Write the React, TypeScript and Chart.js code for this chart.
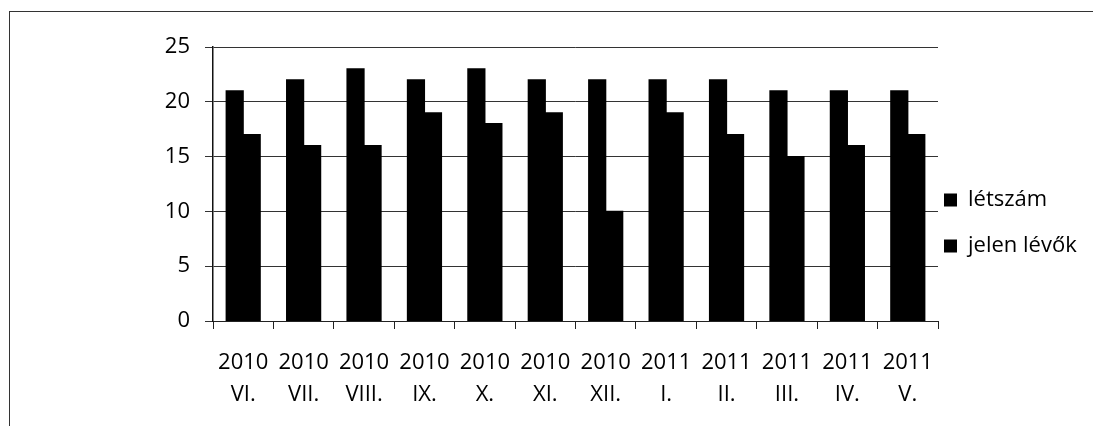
import React, { useEffect, useRef } from "react";
import { Chart, registerables } from "chart.js";

Chart.register(...registerables);

const categories: string[][] = [
  ["2010", "VI."],
  ["2010", "VII."],
  ["2010", "VIII."],
  ["2010", "IX."],
  ["2010", "X."],
  ["2010", "XI."],
  ["2010", "XII."],
  ["2011", "I."],
  ["2011", "II."],
  ["2011", "III."],
  ["2011", "IV."],
  ["2011", "V."],
];
const letszam: number[] = [21, 22, 23, 22, 23, 22, 22, 22, 22, 21, 21, 21];
const jelenLevok: number[] = [17, 16, 16, 19, 18, 19, 10, 19, 17, 15, 16, 17];
const seriesNames: string[] = ["létszám", "jelen lévők"];

const FONT = "'Open Sans', 'DejaVu Sans', sans-serif";

const legendPlacer = {
  id: "legendPlacer",
  afterLayout(chart: any) {
    const l = chart.legend;
    if (!l) return;
    const pad = l.options.labels.padding;
    const left = chart.chartArea.right + 6 - pad;
    const top = 189 - pad;
    const w = l.width;
    const h = l.height;
    l.left = left;
    l.right = left + w;
    l.top = top;
    l.bottom = top + Math.max(h, 200);
    l.height = l.bottom - l.top;
  },
};

export default function App() {
  const ref = useRef<HTMLCanvasElement | null>(null);

  useEffect(() => {
    if (!ref.current) return;
    const chart = new Chart(ref.current, {
      type: "bar",
      data: {
        labels: categories,
        datasets: [
          {
            label: seriesNames[0],
            data: letszam,
            backgroundColor: "#000",
            borderWidth: 0,
            inflateAmount: 0.6,
          },
          {
            label: seriesNames[1],
            data: jelenLevok,
            backgroundColor: "#000",
            borderWidth: 0,
            inflateAmount: 0.6,
          },
        ],
      },
      options: {
        animation: false,
        responsive: false,
        devicePixelRatio: 1,
        layout: { padding: { top: 47, left: 0, right: 155, bottom: 15 } },
        datasets: {
          bar: { categoryPercentage: 0.563, barPercentage: 1 },
        },
        plugins: {
          legend: {
            position: "chartArea",
            align: "start",
            labels: {
              boxWidth: 13,
              boxHeight: 13,
              padding: 24,
              color: "#000",
              font: { family: FONT, size: 22 },
            },
          },
          tooltip: { enabled: false },
        },
        scales: {
          x: {
            offset: true,
            grid: {
              display: true,
              drawOnChartArea: false,
              drawTicks: true,
              tickLength: 8,
              color: "#222",
            },
            border: { display: true, color: "#222", width: 1 },
            ticks: {
              color: "#000",
              padding: 18,
              maxRotation: 0,
              autoSkip: false,
              font: { family: FONT, size: 22, lineHeight: 32 / 22 },
            },
            afterFit(scale: any) {
              scale.height = 90;
            },
          },
          y: {
            min: 0,
            max: 25,
            ticks: {
              stepSize: 5,
              color: "#000",
              padding: 15,
              font: { family: FONT, size: 22 },
            },
            grid: {
              color: "#333",
              lineWidth: 1,
              drawTicks: true,
              tickLength: 8,
            },
            border: { display: true, color: "#111", width: 1.5 },
            afterFit(scale: any) {
              scale.width = 213;
            },
          },
        },
      },
      plugins: [legendPlacer],
    });
    return () => chart.destroy();
  }, []);

  return (
    <div
      style={{
        position: "absolute",
        left: 0,
        top: 0,
        width: 1093,
        height: 426,
        background: "#fff",
        overflow: "hidden",
      }}
    >
      <div
        style={{
          position: "absolute",
          left: 9,
          top: 11,
          width: 1100,
          height: 430,
          borderTop: "1px solid #333",
          borderLeft: "1px solid #333",
        }}
      />
      <canvas
        ref={ref}
        width={1093}
        height={426}
        style={{ position: "absolute", left: 0, top: 0, display: "block" }}
      />
    </div>
  );
}
